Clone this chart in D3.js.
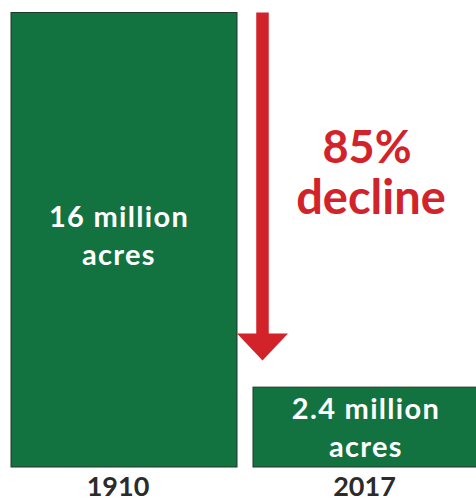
<!DOCTYPE html>
<html><head><meta charset="utf-8">
<script src="https://cdn.jsdelivr.net/npm/d3@7/dist/d3.min.js"></script>
<style>body{margin:0;background:#fff}svg{display:block}</style>
</head><body>
<svg id="c" width="476" height="502"></svg>
<script>
const years = ["1910", "2017"];
const values = [16, 2.4];
const labelsTop = ["16 million", "2.4 million"];
const labelsBottom = ["acres", "acres"];
const declineLabel = ["85%", "decline"];

const svg = d3.select("#c");
const x = d3.scaleBand().domain(years).range([11, 479]).paddingInner(0.0661).paddingOuter(0);
const y = d3.scaleLinear().domain([-0.5, 16]).range([467, 12.5]);

const green = "#137340", red = "#d2232a";
const font = "Lato, 'Noto Sans', sans-serif";

const g = svg.append("g");
g.selectAll("rect.bar").data(years).join("rect")
  .attr("class", "bar")
  .attr("x", d => x(d))
  .attr("width", x.bandwidth())
  .attr("y", (d, i) => y(values[i]))
  .attr("height", (d, i) => y(-0.5) - y(values[i]))
  .attr("fill", green).attr("stroke", "#22372b").attr("stroke-width", 1);

const cx = (d, i) => x(d) + x.bandwidth() / 2 + (i === 0 ? -5 : 0);
g.selectAll("text.l1").data(years).join("text")
  .attr("x", cx)
  .attr("y", (d, i) => i === 0 ? 227 : 419)
  .attr("text-anchor", "middle").attr("fill", "#fff")
  .attr("font-family", font).attr("font-weight", 700).attr("font-size", 29)
  .attr("letter-spacing", 1.3)
  .text((d, i) => labelsTop[i]);
g.selectAll("text.l2").data(years).join("text")
  .attr("x", cx)
  .attr("y", (d, i) => i === 0 ? 265 : 456.5)
  .attr("text-anchor", "middle").attr("fill", "#fff")
  .attr("font-family", font).attr("font-weight", 700).attr("font-size", 29)
  .attr("letter-spacing", 1.3)
  .text((d, i) => labelsBottom[i]);

g.selectAll("text.yr").data(years).join("text")
  .attr("x", (d, i) => i === 0 ? 118 : 364.5)
  .attr("y", 496)
  .attr("text-anchor", "middle").attr("fill", "#2b2b2b")
  .attr("font-family", font).attr("font-weight", 700).attr("font-size", 27)
  .text(d => d);

const ax = 262.5;
g.append("rect").attr("x", ax - 6.25).attr("y", y(values[0])).attr("width", 12.5)
  .attr("height", 334 - y(values[0])).attr("fill", red);
g.append("path").attr("d", `M${ax - 25.5},333.5 L${ax + 25.5},333.5 L${ax},360.5 Z`).attr("fill", red);

g.append("text").attr("x", 367).attr("y", 162.5).attr("text-anchor", "middle")
  .attr("fill", red).attr("font-family", font).attr("font-weight", 700).attr("font-size", 45)
  .text(declineLabel[0]);
g.append("text").attr("x", 371).attr("y", 214).attr("text-anchor", "middle")
  .attr("fill", red).attr("font-family", font).attr("font-weight", 700).attr("font-size", 47)
  .text(declineLabel[1]);
</script>
</body></html>
